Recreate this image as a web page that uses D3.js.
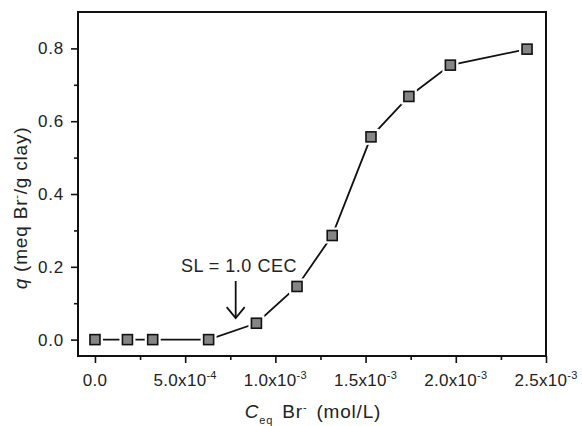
<!DOCTYPE html>
<html>
<head>
<meta charset="utf-8">
<script src="https://cdn.jsdelivr.net/npm/d3@7"></script>
<style>
  html, body { margin: 0; padding: 0; background: #fff; }
  svg { display: block; }
  text { font-family: "Liberation Sans", Arial, sans-serif; fill: #222; }
</style>
</head>
<body>
<svg id="chart" width="582" height="426"></svg>
<script>
// Bromide adsorption isotherm: equilibrium concentration vs. amount adsorbed
const ceq = [0, 1.8e-4, 3.2e-4, 6.3e-4, 8.95e-4, 1.12e-3, 1.315e-3, 1.53e-3, 1.74e-3, 1.97e-3, 2.395e-3];
const qAds = [0, 0, 0, 0, 0.045, 0.146, 0.286, 0.557, 0.668, 0.754, 0.798];

const xMajor = [0, 5e-4, 1e-3, 1.5e-3, 2e-3, 2.5e-3];
const xMinor = [2.5e-4, 7.5e-4, 1.25e-3, 1.75e-3, 2.25e-3];
const xMantissa = ["0.0", "5.0", "1.0", "1.5", "2.0", "2.5"];
const xExponent = ["", "-4", "-3", "-3", "-3", "-3"];
const yMajor = [0, 0.2, 0.4, 0.6, 0.8];
const yMinor = [0.1, 0.3, 0.5, 0.7];

const annotation = "SL = 1.0 CEC";
const arrowAt = { x: 7.8e-4, yFrom: 0.161, yTo: 0.059 };

const frame = { left: 78, top: 12, right: 546, bottom: 356 };
const svg = d3.select("#chart");

const x = d3.scaleLinear().domain([-9.4e-5, 2.5e-3]).range([frame.left, frame.right]);
const y = d3.scaleLinear().domain([-0.045, 0.9]).range([frame.bottom, frame.top]);

// axes with outward ticks
const xAxis = svg.append("g").attr("transform", `translate(0,${frame.bottom})`);
xAxis.call(d3.axisBottom(x).tickValues(xMinor).tickSize(4).tickFormat(""));
xAxis.append("g").call(d3.axisBottom(x).tickValues(xMajor).tickSize(7).tickFormat(""));
xAxis.selectAll(".domain").remove();
xAxis.selectAll("line").attr("stroke", "#111").attr("stroke-width", 1.6);

const yAxis = svg.append("g").attr("transform", `translate(${frame.left},0)`);
yAxis.call(d3.axisLeft(y).tickValues(yMinor).tickSize(4).tickFormat(""));
yAxis.append("g").call(d3.axisLeft(y).tickValues(yMajor).tickSize(7).tickFormat(""));
yAxis.selectAll(".domain").remove();
yAxis.selectAll("line").attr("stroke", "#111").attr("stroke-width", 1.6);

// frame box
svg.append("rect")
  .attr("x", frame.left).attr("y", frame.top)
  .attr("width", frame.right - frame.left).attr("height", frame.bottom - frame.top)
  .attr("fill", "none").attr("stroke", "#111").attr("stroke-width", 2);

// x tick labels with superscript exponent
xMajor.forEach((v, i) => {
  const t = svg.append("text")
    .attr("x", x(v)).attr("y", 386)
    .attr("text-anchor", "middle")
    .attr("font-size", 17)
    .attr("letter-spacing", 0.3);
  t.append("tspan").text(xMantissa[i] + (xExponent[i] ? "x10" : ""));
  if (xExponent[i]) {
    t.append("tspan").attr("dy", -7).attr("font-size", 11).text(xExponent[i]);
  }
});

// y tick labels
yMajor.forEach(v => {
  svg.append("text")
    .attr("x", 64).attr("y", y(v) + 6)
    .attr("text-anchor", "end")
    .attr("font-size", 17)
    .attr("letter-spacing", 0.8)
    .text(d3.format(".1f")(v));
});

// x axis title
const xt = svg.append("text")
  .attr("x", 313).attr("y", 418)
  .attr("text-anchor", "middle")
  .attr("font-size", 19)
  .attr("letter-spacing", 0.8)
  .attr("word-spacing", 3);
xt.append("tspan").attr("font-style", "italic").text("C");
xt.append("tspan").attr("dy", 6).attr("font-size", 11).text("eq");
xt.append("tspan").attr("dy", -6).text(" Br");
xt.append("tspan").attr("dy", -7).attr("font-size", 11).text("-");
xt.append("tspan").attr("dy", 7).text(" (mol/L)");

// y axis title
const yt = svg.append("text")
  .attr("transform", "translate(27,208) rotate(-90)")
  .attr("text-anchor", "middle")
  .attr("font-size", 19)
  .attr("letter-spacing", 0.8);
yt.append("tspan").attr("font-style", "italic").text("q");
yt.append("tspan").text(" (meq Br");
yt.append("tspan").attr("dy", -7).attr("font-size", 11).text("-");
yt.append("tspan").attr("dy", 7).text("/g clay)");

// connecting line
const pts = ceq.map((c, i) => [c, qAds[i]]);
svg.append("path")
  .datum(pts)
  .attr("fill", "none")
  .attr("stroke", "#111")
  .attr("stroke-width", 1.8)
  .attr("d", d3.line().x(d => x(d[0])).y(d => y(d[1])));

// white halos leave a small gap between line and markers
svg.append("g").selectAll("rect")
  .data(pts).join("rect")
  .attr("x", d => x(d[0]) - 8).attr("y", d => y(d[1]) - 8)
  .attr("width", 16).attr("height", 16)
  .attr("fill", "#fff");

svg.append("g").selectAll("rect")
  .data(pts).join("rect")
  .attr("x", d => x(d[0]) - 5).attr("y", d => y(d[1]) - 5)
  .attr("width", 10).attr("height", 10)
  .attr("fill", "#858585")
  .attr("stroke", "#111")
  .attr("stroke-width", 1.6);

// annotation and arrow
svg.append("text")
  .attr("x", 181).attr("y", 272)
  .attr("font-size", 18)
  .attr("letter-spacing", 0.5)
  .text(annotation);

const ax = x(arrowAt.x), ay0 = y(arrowAt.yFrom), ay1 = y(arrowAt.yTo);
svg.append("line")
  .attr("x1", ax).attr("x2", ax).attr("y1", ay0).attr("y2", ay1 - 1)
  .attr("stroke", "#111").attr("stroke-width", 1.8);
svg.append("path")
  .attr("d", `M${ax - 9},${ay1 - 11} L${ax},${ay1} L${ax + 9},${ay1 - 11}`)
  .attr("fill", "none").attr("stroke", "#111").attr("stroke-width", 1.8);
</script>
</body>
</html>
